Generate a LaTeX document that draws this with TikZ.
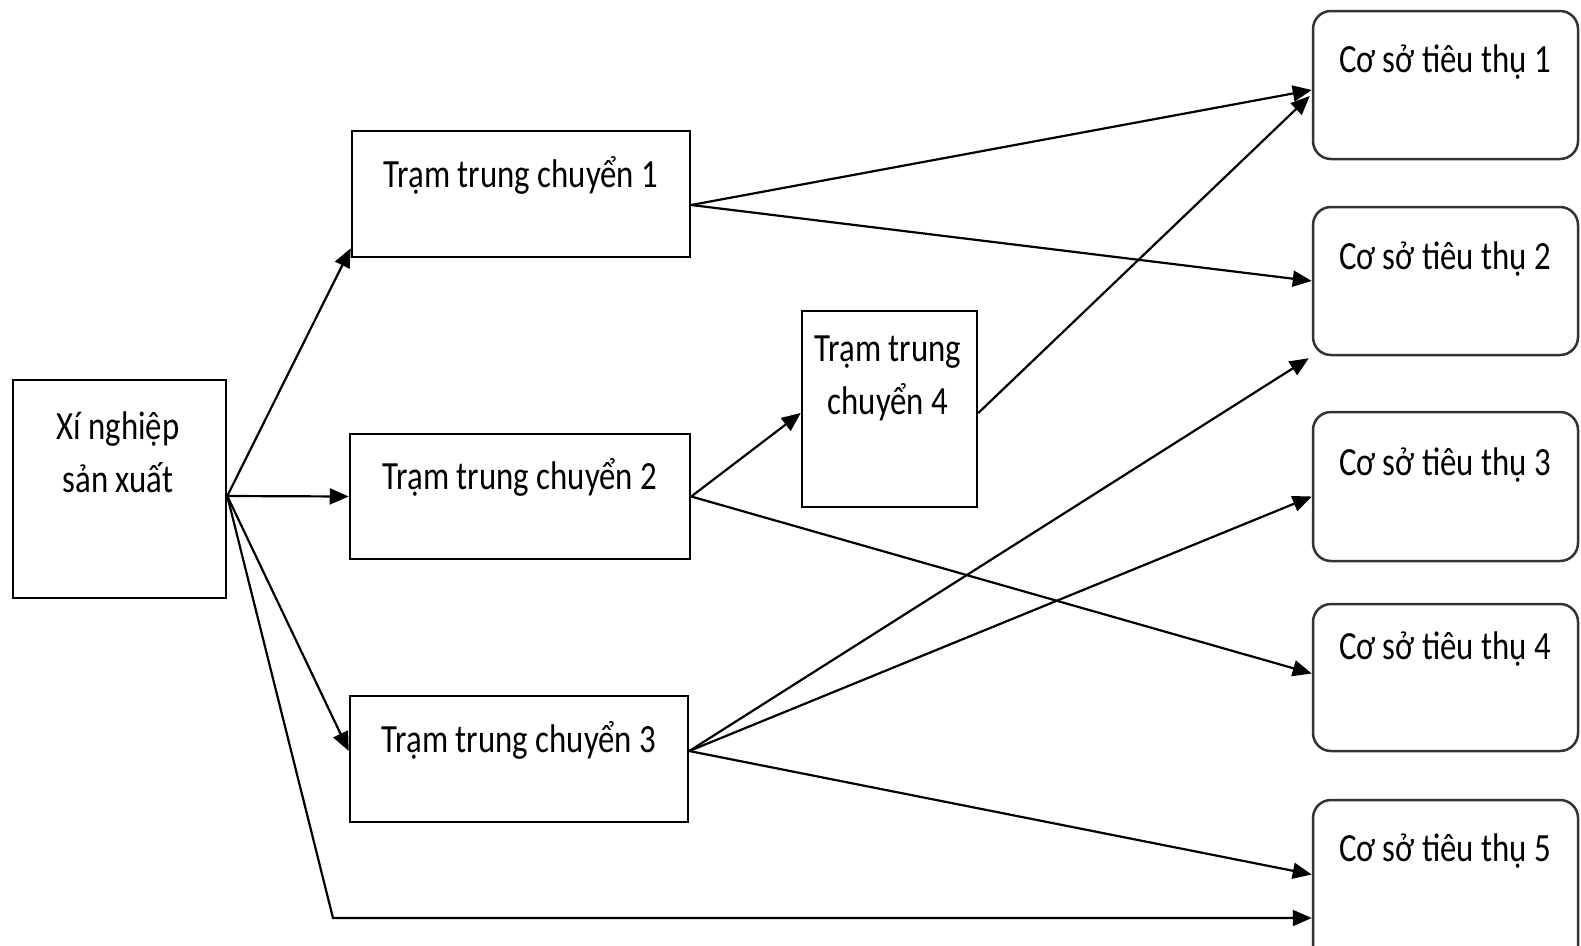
\documentclass[tikz,border=0pt]{standalone}
\usepackage{fontspec}
\setmainfont{Carlito}[FakeStretch=0.82]
\usetikzlibrary{arrows.meta,calc}

\begin{document}
\begin{tikzpicture}[x=1pt, y=-1pt,
  box/.style={draw=black, line width=2.5pt, inner sep=0pt},
  sink/.style={draw=black!80, line width=2.5pt, inner sep=0pt, rounded corners=18pt},
  lbl/.style={inner sep=0pt, align=center, font=\fontsize{40}{53}\selectfont},
  conn/.style={line width=2.2pt, -{Triangle[length=19pt,width=16pt]}}]

\useasboundingbox (0,0) rectangle (1581,945);
\clip (0,0) rectangle (1581,945);

% source plant
\node[box, minimum width=213pt, minimum height=218pt] (xn) at (119.5,489) {};
\node[lbl] (xntext) at (118,452) {Xí nghiệp\\sản xuất};

% transfer stations
\node[box, minimum width=338pt, minimum height=126pt] (t1) at (521,194) {};
\node[lbl] (t1text) at (521,175) {Trạm trung chuyển 1};
\node[box, minimum width=340pt, minimum height=125pt] (t2) at (520,496.5) {};
\node[lbl] (t2text) at (520,477) {Trạm trung chuyển 2};
\node[box, minimum width=338pt, minimum height=126pt] (t3) at (519,759) {};
\node[lbl] (t3text) at (519,740) {Trạm trung chuyển 3};
\node[box, minimum width=175pt, minimum height=196pt] (t4) at (889.5,409) {};
\node[lbl] (t4text) at (888,378) {Trạm trung\\chuyển 4};

% consumers
\node[sink, minimum width=265pt, minimum height=148pt] (c1) at (1445.5,85) {};
\node[lbl] (c1text) at (1445,62) {Cơ sở tiêu thụ 1};
\node[sink, minimum width=265pt, minimum height=148pt] (c2) at (1445.5,281) {};
\node[lbl] (c2text) at (1445,259) {Cơ sở tiêu thụ 2};
\node[sink, minimum width=265pt, minimum height=149pt] (c3) at (1445.5,486.5) {};
\node[lbl] (c3text) at (1445,465) {Cơ sở tiêu thụ 3};
\node[sink, minimum width=265pt, minimum height=147pt] (c4) at (1445.5,677.5) {};
\node[lbl] (c4text) at (1445,649) {Cơ sở tiêu thụ 4};
\node[sink, minimum width=265pt, minimum height=165pt] (c5) at (1445.5,882.5) {};
\node[lbl] (c5text) at (1445,851) {Cơ sở tiêu thụ 5};

% connection points
\coordinate (xo) at ($(xn.east)+(0,7)$);
\coordinate (bend) at (333,918);
\coordinate (t1o) at ($(t1.east)+(0,11)$);
\coordinate (t3o) at ($(t3.east)+(0,-8)$);
\coordinate (t4o) at ($(t4.east)+(0,4)$);

% plant to stations
\draw[conn] (xo) -- ($(t1.south west)+(0,-10)$);
\draw[conn] (xo) -- (t2.west);
\draw[conn] (xo) -- ($(t3.west)+(0,-8)$);
\draw[conn] (xo) -- (bend) -- (bend -| c5.west);

% station 1
\draw[conn] (t1o) -- ($(c1.west)+(0,5)$);
\draw[conn] (t1o) -- (c2.west);

% station 2
\draw[conn] (t2.east) -- ($(t4.west)+(0,4)$);
\draw[conn] (t2.east) -- ($(c4.west)+(0,-4)$);

% station 4
\draw[conn] (t4o) -- ($(c1.west)+(-2,11)$);

% station 3
\draw[conn] (t3o) -- ($(c2.south west)+(-3,2)$);
\draw[conn] (t3o) -- ($(c3.west)+(0,10)$);
\draw[conn] (t3o) -- ($(c5.west)+(0,-8)$);
\end{tikzpicture}
\end{document}
